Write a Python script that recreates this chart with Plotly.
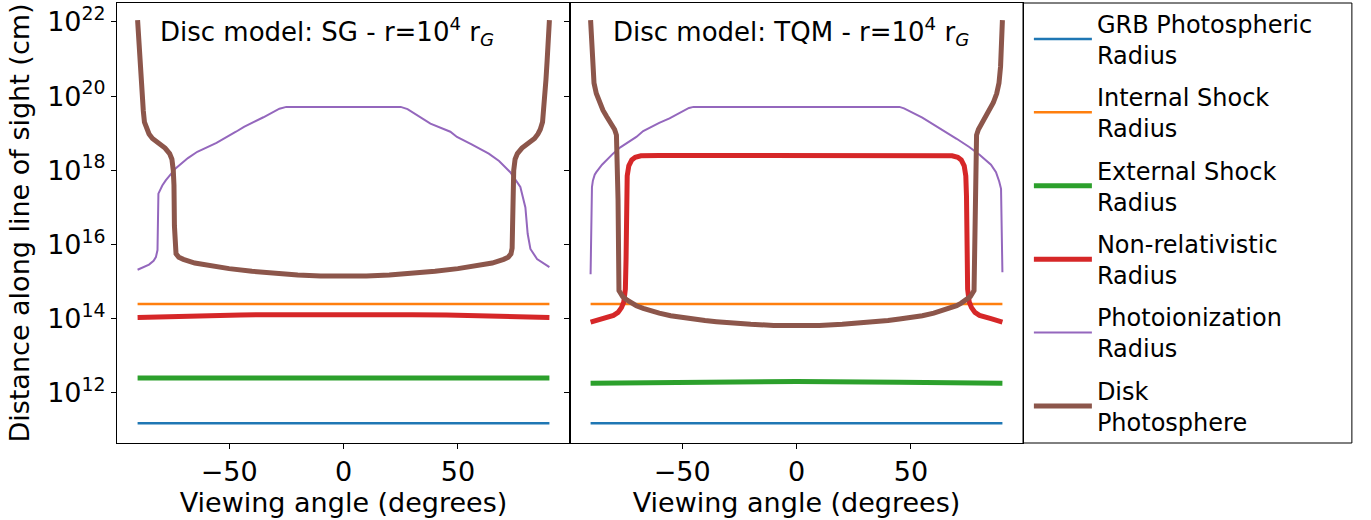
import numpy as np
import plotly.graph_objects as go

# ---------------- data (log10 of distance in cm) ----------------
x_ticks = [-50, 0, 50]
y_tickvals_exp = [12, 14, 16, 18, 20, 22]
y_ticktext = ["10<sup>12</sup>", "10<sup>14</sup>", "10<sup>16</sup>",
              "10<sup>18</sup>", "10<sup>20</sup>", "10<sup>22</sup>"]

series_names = ["GRB Photospheric<br>Radius", "Internal Shock<br>Radius",
                "External Shock<br>Radius", "Non-relativistic<br>Radius",
                "Photoionization<br>Radius", "Disk<br>Photosphere"]
series_colors = ["#1f77b4", "#ff7f0e", "#2ca02c", "#d62728", "#9467bd", "#8c564b"]

# ---- Panel 1: SG ----
sg_grb_ang = [-90, 90]
sg_grb_log = [11.18, 11.18]
sg_is_ang = [-90, 90]
sg_is_log = [14.40, 14.40]
sg_es_ang = [-90, 90]
sg_es_log = [12.40, 12.40]
sg_nr_ang = [-90, -80, -70, -60, -45, -30, -15, 0, 15, 30, 45, 60, 70, 80, 90]
sg_nr_log = [14.03, 14.05, 14.07, 14.085, 14.10, 14.11, 14.115, 14.12, 14.115, 14.11, 14.10, 14.085, 14.07, 14.05, 14.03]
sg_pi_ang = [-90, -87, -85, -83, -82, -81.3, -81.1, -80.9, -79.2, -77.7, -73.4, -68, -63.9,
             -55.5, -47, -43.5, -35, -28, -25, 0, 25, 28, 38, 46.7, 49.6, 56, 63.5, 68,
             72.9, 77.3, 79.5, 80.5, 81.7, 84.6, 90]
sg_pi_log = [15.32, 15.40, 15.46, 15.56, 15.66, 15.85, 16.30, 17.37, 17.59, 17.73, 18.05, 18.33, 18.50,
             18.74, 19.04, 19.17, 19.43, 19.66, 19.71, 19.71, 19.71, 19.65, 19.26, 19.04, 18.90, 18.70, 18.45, 18.25,
             17.95, 17.55, 17.00, 16.29, 15.88, 15.61, 15.39]
sg_dp_ang = [-90, -89.5, -89, -88.5, -88, -87.5, -87, -86, -85, -83.5, -81, -78, -76, -75, -74.4,
             -74.1, -73.9, -73.7, -73.2, -72, -70, -65, -60, -50, -40, -30, -20, -10, 0,
             10, 20, 30, 40, 50, 60, 65, 70, 72, 73.2, 73.7, 73.9, 74.1, 74.4, 75, 76, 78,
             81, 83.5, 85, 86, 87, 87.5, 88, 88.5, 89, 89.5, 90]
sg_dp_log = [22.05, 21.45, 20.95, 20.45, 20.00, 19.60, 19.30, 19.10, 18.98, 18.86, 18.75, 18.60, 18.45, 18.30, 18.00,
             17.60, 16.50, 15.90, 15.75, 15.66, 15.60, 15.50, 15.44, 15.35, 15.28, 15.22, 15.18, 15.15, 15.14,
             15.15, 15.18, 15.22, 15.28, 15.35, 15.44, 15.50, 15.60, 15.66, 15.75, 15.90, 16.50, 17.60, 18.00, 18.30, 18.45, 18.60,
             18.75, 18.86, 18.98, 19.10, 19.30, 19.60, 20.00, 20.45, 20.95, 21.45, 22.05]

# ---- Panel 2: TQM ----
tqm_grb_ang = [-90, 90]
tqm_grb_log = [11.18, 11.18]
tqm_is_ang = [-90, 90]
tqm_is_log = [14.40, 14.40]
tqm_es_ang = [-90, -45, 0, 45, 90]
tqm_es_log = [12.26, 12.29, 12.31, 12.29, 12.26]
tqm_nr_ang = [-90, -85, -80, -78, -76.5, -75.5, -74.8, -74.5, -74.3, -74.0, -73.3, -72, -70.5, -68, -60,
              0, 60, 68, 70.5, 72, 73.3, 74.0, 74.3, 74.5, 74.8, 75.5, 76.5, 78, 80, 85, 90]
tqm_nr_log = [13.91, 14.00, 14.09, 14.17, 14.30, 14.45, 14.80, 15.60, 17.30, 17.85, 18.12, 18.28, 18.35, 18.39, 18.40,
              18.40, 18.40, 18.39, 18.35, 18.28, 18.12, 17.85, 17.30, 15.60, 14.80, 14.45, 14.30, 14.17, 14.09, 14.00, 13.91]
tqm_pi_ang = [-90, -89.4, -89.0, -88.2, -87.5, -85, -80.2, -77, -70, -67, -60, -55.5, -47, -45,
              45, 47, 55, 65.4, 70, 75.5, 80, 85, 87.2, 88.6, 89.4, 90]
tqm_pi_log = [15.20, 17.55, 17.72, 17.88, 17.95, 18.15, 18.45, 18.62, 18.90, 19.06, 19.28, 19.40, 19.68, 19.71,
              19.71, 19.67, 19.42, 19.04, 18.85, 18.63, 18.42, 18.15, 17.95, 17.70, 17.50, 15.25]
tqm_dp_ang = [-90, -89.6, -89.2, -88.5, -87.5, -86, -84.6, -83, -80.9, -79.5, -78.7, -78.4, -78.0, -77.6,
              -76, -74, -72, -70, -67, -63, -60, -55, -50, -45, -40, -35, -30, -20, -10, 0,
              10, 20, 30, 35, 40, 45, 50, 55, 60, 63, 67, 70, 72, 74, 76, 77.6, 78.0, 78.4, 78.7, 79.5, 80.9, 83, 84.6,
              86, 87.5, 88.5, 89.2, 89.6, 90]
tqm_dp_log = [22.05, 21.50, 20.80, 20.35, 20.07, 19.82, 19.62, 19.45, 19.26, 19.10, 18.95, 18.50, 17.20, 14.76,
              14.60, 14.50, 14.42, 14.35, 14.28, 14.20, 14.15, 14.08, 14.03, 13.99, 13.95, 13.92, 13.89, 13.85, 13.82, 13.81,
              13.82, 13.85, 13.89, 13.92, 13.95, 13.99, 14.03, 14.08, 14.15, 14.20, 14.28, 14.35, 14.42, 14.50, 14.60, 14.76,
              17.20, 18.50, 18.95, 19.10, 19.26, 19.45, 19.62,
              19.82, 20.07, 20.35, 20.80, 21.50, 22.05]

panel_text = ["Disc model: SG - r=10<sup>4</sup> r<sub><i>G</i></sub>",
              "Disc model: TQM - r=10<sup>4</sup> r<sub><i>G</i></sub>"]

# ---------------- styles ----------------
line_widths = [2.5, 2.5, 5, 5, 2, 5]
FONT = "DejaVu Sans"

panels = [
    ("x", "y", [(sg_grb_ang, sg_grb_log), (sg_is_ang, sg_is_log), (sg_es_ang, sg_es_log),
                (sg_nr_ang, sg_nr_log), (sg_pi_ang, sg_pi_log), (sg_dp_ang, sg_dp_log)]),
    ("x2", "y2", [(tqm_grb_ang, tqm_grb_log), (tqm_is_ang, tqm_is_log), (tqm_es_ang, tqm_es_log),
                  (tqm_nr_ang, tqm_nr_log), (tqm_pi_ang, tqm_pi_log), (tqm_dp_ang, tqm_dp_log)]),
]

y_tickvals = [10.0 ** e for e in y_tickvals_exp]

fig = go.Figure()
for p, (xa, ya, data) in enumerate(panels):
    for i, (ang, lg) in enumerate(data):
        fig.add_trace(go.Scatter(
            x=ang, y=(10.0 ** np.array(lg, dtype=float)).tolist(), mode="lines",
            name=series_names[i], legendgroup=series_names[i],
            showlegend=(p == 0),
            line=dict(color=series_colors[i], width=line_widths[i]),
            xaxis=xa, yaxis=ya, hoverinfo="skip"))

axis_common = dict(showline=True, linecolor="black", linewidth=1, mirror=True,
                   ticks="outside", ticklen=5, tickwidth=1, tickcolor="black",
                   showgrid=False, zeroline=False, automargin=False,
                   tickfont=dict(family=FONT, size=27, color="black"))

fig.update_layout(
    width=1371, height=520,
    margin=dict(l=117, r=348, t=3, b=77, autoexpand=False),
    paper_bgcolor="white", plot_bgcolor="white",
    font=dict(family=FONT, color="black"),
    xaxis=dict(domain=[0, 0.5], range=[-99, 99], tickvals=x_ticks, anchor="y",
               title=dict(text="Viewing angle (degrees)", font=dict(family=FONT, size=27), standoff=0),
               **axis_common),
    xaxis2=dict(domain=[0.5, 1], range=[-99, 99], tickvals=x_ticks, anchor="y2",
                title=dict(text="Viewing angle (degrees)", font=dict(family=FONT, size=27), standoff=0),
                **axis_common),
    yaxis=dict(type="log", range=[10.65, 22.51], anchor="x",
               tickvals=y_tickvals, ticktext=y_ticktext,
               title=dict(text="Distance along line of sight (cm)", font=dict(family=FONT, size=27), standoff=9),
               **axis_common),
    yaxis2=dict(type="log", range=[10.65, 22.51], anchor="x2", matches="y",
                tickvals=y_tickvals, ticktext=y_ticktext,
                showticklabels=False, **axis_common),
    legend=dict(x=1.0065, xanchor="left", y=1.004, yanchor="top",
                font=dict(family=FONT, size=24, color="black"),
                bgcolor="rgba(0,0,0,0)", borderwidth=0,
                tracegroupgap=8, itemwidth=58, maxheight=515),
    shapes=[dict(type="rect", xref="paper", yref="paper", x0=1.0, x1=1.363, y0=0, y1=1,
                 line=dict(color="black", width=1), fillcolor="rgba(0,0,0,0)", layer="below")],
    annotations=[
        dict(text=panel_text[0], xref="x", yref="paper", x=-81, y=0.936, xanchor="left",
             yanchor="middle", showarrow=False, font=dict(family=FONT, size=26, color="black")),
        dict(text=panel_text[1], xref="x2", yref="paper", x=-81, y=0.936, xanchor="left",
             yanchor="middle", showarrow=False, font=dict(family=FONT, size=26, color="black")),
    ],
)

fig.write_html("out.html", config={"displayModeBar": False},
               post_script="document.body.style.margin='0px';document.body.style.padding='0px';")
